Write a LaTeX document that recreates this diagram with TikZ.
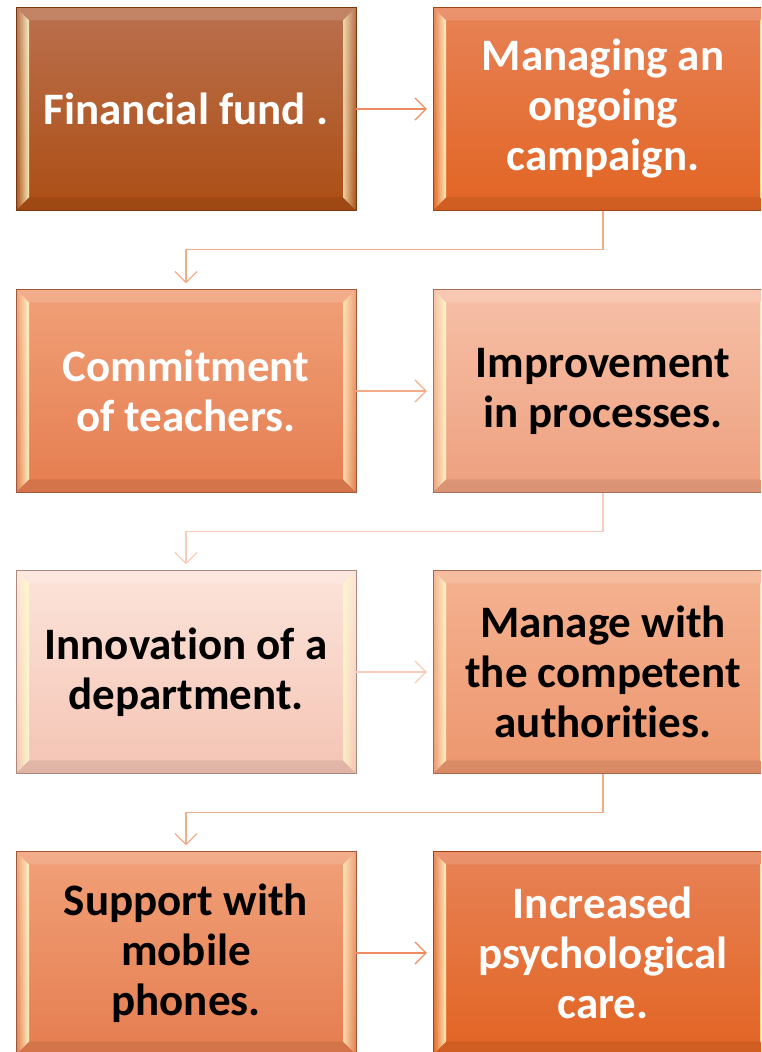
\documentclass[tikz,border=0pt]{standalone}
\usepackage{fontspec}
\setmainfont{Carlito}[Ligatures=NoCommon]
\usepackage{tikz}
\usetikzlibrary{arrows.meta,fadings}

\definecolor{fundtop}{RGB}{186,112,78}
\definecolor{fundbot}{RGB}{172,78,20}
\definecolor{camptop}{RGB}{231,130,86}
\definecolor{campbot}{RGB}{226,100,35}
\definecolor{teachtop}{RGB}{241,160,120}
\definecolor{teachbot}{RGB}{229,125,80}
\definecolor{proctop}{RGB}{247,192,168}
\definecolor{procbot}{RGB}{237,160,126}
\definecolor{depttop}{RGB}{252,228,218}
\definecolor{deptbot}{RGB}{244,196,180}
\definecolor{authtop}{RGB}{245,178,144}
\definecolor{authbot}{RGB}{236,150,110}
\definecolor{linkA}{RGB}{236,140,96}
\definecolor{linkB}{RGB}{243,172,138}
\definecolor{linkC}{RGB}{248,204,186}

\tikzset{
  bevel/.style={path picture={
    \coordinate (nw) at (path picture bounding box.north west);
    \coordinate (ne) at (path picture bounding box.north east);
    \coordinate (sw) at (path picture bounding box.south west);
    \coordinate (se) at (path picture bounding box.south east);
    \fill[white, fill opacity=.14] (nw) -- (ne) -- ([shift={(-13,-13)}]ne) -- ([shift={(13,-13)}]nw) -- cycle;
    \fill[black, fill opacity=.08] (sw) -- (se) -- ([shift={(-13,13)}]se) -- ([shift={(13,13)}]sw) -- cycle;
    \fill[white!80!yellow, fill opacity=.9, path fading=west] (nw) -- (sw) -- ([shift={(13,13)}]sw) -- ([shift={(13,-13)}]nw) -- cycle;
    \fill[white!80!yellow, fill opacity=.75, path fading=east] (ne) -- (se) -- ([shift={(-13,13)}]se) -- ([shift={(-13,-13)}]ne) -- cycle;
  }},
  box/.style n args={3}{rectangle, top color=#1, bottom color=#2, draw=#2!70!black,
    text=#3, bevel, minimum width=340pt, minimum height=203pt, inner sep=0pt,
    align=center, font=\bfseries\fontsize{45}{50}\selectfont},
  link/.style={draw=#1, line width=1.2pt, shorten >=6pt,
    -{Straight Barb[length=11pt, width=22pt]}}
}

\begin{document}
\begin{tikzpicture}[x=1pt, y=1pt]
			\clip (0,0) rectangle (761,1052);
			
			\node[box={fundtop}{fundbot}{white}] (fund) at (186,943){Financial fund .};
			\node[box={camptop}{campbot}{white}] (campaign) at (603,943){Managing an\\ongoing\\campaign.};
			\node[box={teachtop}{teachbot}{white}] (teachers) at (186,661){Commitment\\of teachers.};
			\node[box={proctop}{procbot}{black}] (processes) at (603,661){Improvement\\in processes.};
			\node[box={depttop}{deptbot}{black}] (department) at (186,380){Innovation of a\\department.};
			\node[box={authtop}{authbot}{black}] (authorities) at (603,380){Manage with\\the competent\\authorities.};
			\node[box={teachtop}{teachbot}{black}] (phones) at (186,99){Support with\\mobile\\phones.};
			\node[box={camptop}{campbot}{white}] (care) at (603,99){Increased\\psychological\\care.};
			
			\draw[link=linkA] (fund) -- (campaign);
			\draw[link=linkB] (campaign.south) -- ++(0,-39) -| (teachers.north);
			\draw[link=linkB] (teachers) -- (processes);
			\draw[link=linkC] (processes.south) -- ++(0,-39) -| (department.north);
			\draw[link=linkC] (department) -- (authorities);
			\draw[link=linkB] (authorities.south) -- ++(0,-39) -| (phones.north);
			\draw[link=linkA] (phones) -- (care);
\end{tikzpicture}
\end{document}
